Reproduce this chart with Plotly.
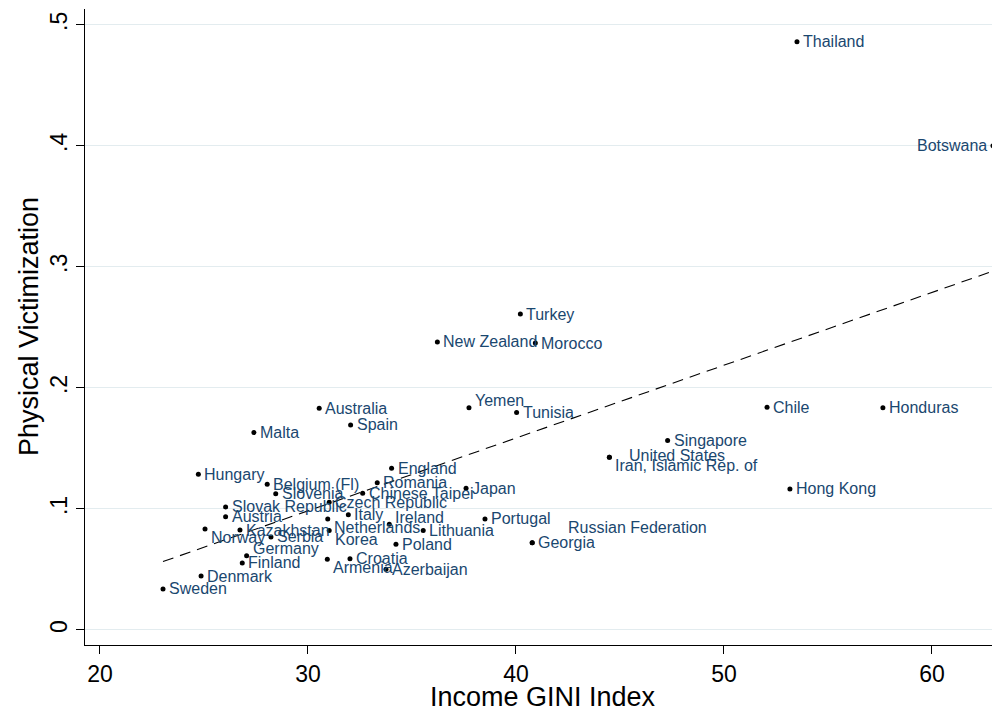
import numpy as np
import plotly.graph_objects as go

countries = ["Thailand", "Botswana", "Turkey", "New Zealand", "Morocco", "Yemen", "Tunisia",
             "Australia", "Spain", "Malta", "Chile", "Honduras", "Singapore", "United States",
             "Iran, Islamic Rep. of", "Hong Kong", "Japan", "Portugal", "Lithuania", "Poland",
             "Georgia", "Russian Federation", "Azerbaijan", "Croatia", "Armenia", "Ireland",
             "Italy", "Netherlands", "Korea", "Czech Republic", "Chinese Taipei", "Romania",
             "England", "Hungary", "Belgium (Fl)", "Slovenia", "Slovak Republic", "Austria",
             "Norway", "Kazakhstan", "Serbia", "Germany", "Finland", "Denmark", "Sweden"]
gini = [53.51, 62.93, 40.21, 36.22, 40.93, 37.74, 40.03,
        30.54, 32.05, 27.40, 52.07, 57.64, 47.29, 44.49,
        44.49, 53.17, 37.60, 38.51, 35.54, 34.23,
        40.78, 40.78, 33.75, 32.02, 30.93, 33.91,
        31.94, 30.95, 31.02, 31.02, 32.63, 33.33,
        34.02, 24.73, 28.04, 28.45, 26.04, 26.04,
        25.05, 26.73, 28.22, 27.05, 26.84, 24.86, 23.03]
victim = [0.486, 0.400, 0.261, 0.238, 0.237, 0.1835, 0.1796,
          0.1832, 0.1694, 0.1631, 0.184, 0.1835, 0.1565, 0.1427,
          0.1427, 0.1165, 0.1171, 0.0917, 0.0821, 0.0708,
          0.0721, 0.0721, 0.0502, 0.0589, 0.0584, 0.0874,
          0.0953, 0.0917, 0.0821, 0.1055, 0.1130, 0.1217,
          0.1336, 0.1287, 0.1204, 0.1126, 0.1017, 0.0936,
          0.0835, 0.0826, 0.0769, 0.0614, 0.0554, 0.0446, 0.0339]
# clock position of each marker label (Stata style)
label_pos = ["3", "9", "3", "3", "3", "2", "3",
             "3", "3", "3", "3", "3", "3", "us",
             "4", "3", "3", "3", "3", "3",
             "3", "ru", "3", "3", "4", "2",
             "3", "4", "4", "3", "3", "3",
             "3", "3", "3", "3", "3", "3",
             "4", "3", "3", "2", "3", "3", "3"]

y_tickvals = [0, 0.1, 0.2, 0.3, 0.4, 0.5]
y_ticktext = ["0", ".1", ".2", ".3", ".4", ".5"]
x_tickvals = [20, 30, 40, 50, 60]
x_title = "Income GINI Index"
y_title = "Physical Victimization"

NAVY = "#1a476f"
FONT = "Liberation Sans, Arial, sans-serif"

gx = np.array(gini)
gy = np.array(victim)
slope, intercept = np.polyfit(gx, gy, 1)
fit_x = np.array([gx.min(), gx.max()])
fit_y = intercept + slope * fit_x

fig = go.Figure()
fig.add_trace(go.Scatter(x=fit_x, y=fit_y, mode="lines",
                         line=dict(color="black", width=1.1, dash="11px,7px"),
                         hoverinfo="skip", showlegend=False))
fig.add_trace(go.Scatter(x=gini, y=victim, mode="markers", cliponaxis=False,
                         marker=dict(color="black", size=5),
                         text=countries, showlegend=False))

pos_map = {
    "3": ("left", 4, 0),
    "9": ("right", -4, 0),
    "2": ("left", 4, 7),
    "4": ("left", 4, -8.5),
    "us": ("left", 18, 2),
    "ru": ("left", 34, 15),
}
for name, xv, yv, p in zip(countries, gini, victim, label_pos):
    anchor, xs, ys = pos_map[p]
    fig.add_annotation(x=xv, y=yv, text=name, showarrow=False,
                       xanchor=anchor, yanchor="middle", xshift=xs, yshift=ys,
                       font=dict(family=FONT, size=16, color=NAVY))

# axis titles
fig.add_annotation(x=0.5, y=0, xref="paper", yref="paper", text=x_title, showarrow=False,
                   xanchor="center", yanchor="middle", yshift=-52,
                   font=dict(family=FONT, size=27, color="black"))
fig.add_annotation(x=0, y=0.5, xref="paper", yref="paper", text=y_title, showarrow=False,
                   textangle=-90, xanchor="center", yanchor="middle", xshift=-56,
                   font=dict(family=FONT, size=27, color="black"))

fig.update_layout(
    width=1000, height=713,
    margin=dict(l=77, r=8, t=1, b=76),
    paper_bgcolor="white", plot_bgcolor="white",
    font=dict(family=FONT, color="black"),
    xaxis=dict(range=[19.28, 63.27], tickvals=x_tickvals, showgrid=False, zeroline=False,
               automargin=False,
               showline=True, linecolor="black", linewidth=1.2,
               ticks="outside", ticklen=8, tickcolor="black", tickwidth=1.2,
               tickfont=dict(size=23, family=FONT)),
    yaxis=dict(range=[-0.0124, 0.513], tickvals=y_tickvals, ticktext=y_ticktext,
               automargin=False,
               showgrid=True, gridcolor="#e3ecef", gridwidth=1.2, zeroline=False,
               showline=True, linecolor="black", linewidth=1.2,
               ticks="outside", ticklen=8, tickcolor="black", tickwidth=1.2,
               tickangle=-90, tickfont=dict(size=23, family=FONT)),
)

fig.write_html("out.html")
